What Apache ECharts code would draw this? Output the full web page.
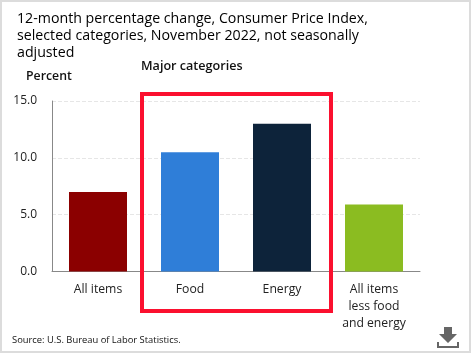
<!DOCTYPE html>
<html><head><meta charset="utf-8">
<style>html,body{margin:0;padding:0;background:#fff}#c{width:471px;height:353px}</style>
<script src="https://cdn.jsdelivr.net/npm/echarts@6/dist/echarts.min.js"></script>
</head><body><div id="c"></div>
<script>
const categories = ['All items', 'Food', 'Energy', 'All items\nless food\nand energy'];
const values = [7.0, 10.5, 13.0, 5.9];
const barColors = ['#8b0000', '#2f7ed8', '#0d233a', '#8bbc21'];
const titleText = '12-month percentage change, Consumer Price Index,\nselected categories, November 2022, not seasonally\nadjusted';
const font = '"Open Sans"';
const chart = echarts.init(document.getElementById('c'), null, {renderer: 'canvas'});
chart.setOption({
  animation: false,
  backgroundColor: '#fff',
  title: {text: titleText, left: 12, top: 5, textStyle: {fontFamily: font, fontSize: 14.2, fontWeight: 'normal', color: '#000', lineHeight: 17}},
  grid: {left: 52, top: 101, width: 368, height: 170.5, containLabel: false},
  xAxis: {type: 'category', data: categories,
    axisLine: {lineStyle: {color: '#888', width: 1}}, axisTick: {show: false},
    axisLabel: {interval: 0, margin: 10, fontFamily: font, fontSize: 12.2, color: '#222', lineHeight: 17}},
  yAxis: {type: 'value', min: 0, max: 15, interval: 5,
    axisLine: {show: true, lineStyle: {color: '#888', width: 1}}, axisTick: {show: false},
    axisLabel: {margin: 15, fontFamily: font, fontSize: 12, color: '#222', formatter: v => v.toFixed(1)},
    splitLine: {lineStyle: {color: '#e6e6e6', type: 'dashed', width: 1}}},
  series: [{type: 'bar', barWidth: 58,
    data: values.map((v, i) => ({value: v, itemStyle: {color: barColors[i]}}))}],
  graphic: [
    {type: 'rect', z: 100, silent: true, shape: {x: 1, y: 1, width: 469, height: 351}, style: {fill: 'none', stroke: '#dcdcdc', lineWidth: 2}},
    {type: 'rect', z: 100, silent: true, shape: {x: 142, y: 94, width: 189, height: 217}, style: {fill: 'none', stroke: '#fb102f', lineWidth: 4}},
    {type: 'text', z: 100, style: {x: 141, y: 60, text: 'Major categories', fontFamily: font, fontSize: 12.6, fontWeight: 600, fill: '#111'}},
    {type: 'text', z: 100, style: {x: 26, y: 70, text: 'Percent', fontFamily: font, fontSize: 12.3, fontWeight: 600, fill: '#111'}},
    {type: 'text', z: 100, style: {x: 12, y: 336, text: 'Source: U.S. Bureau of Labor Statistics.', fontFamily: font, fontSize: 9.4, fill: '#111'}},
    {type: 'polygon', z: 100, shape: {points: [[444,327],[452,327],[452,334],[457,334],[448,343],[439,334],[444,334]]}, style: {fill: '#666'}},
    {type: 'polyline', z: 100, shape: {points: [[438,342],[438,347],[458,347],[458,342]]}, style: {fill: 'none', stroke: '#666', lineWidth: 2}}
  ]
});
</script></body></html>
